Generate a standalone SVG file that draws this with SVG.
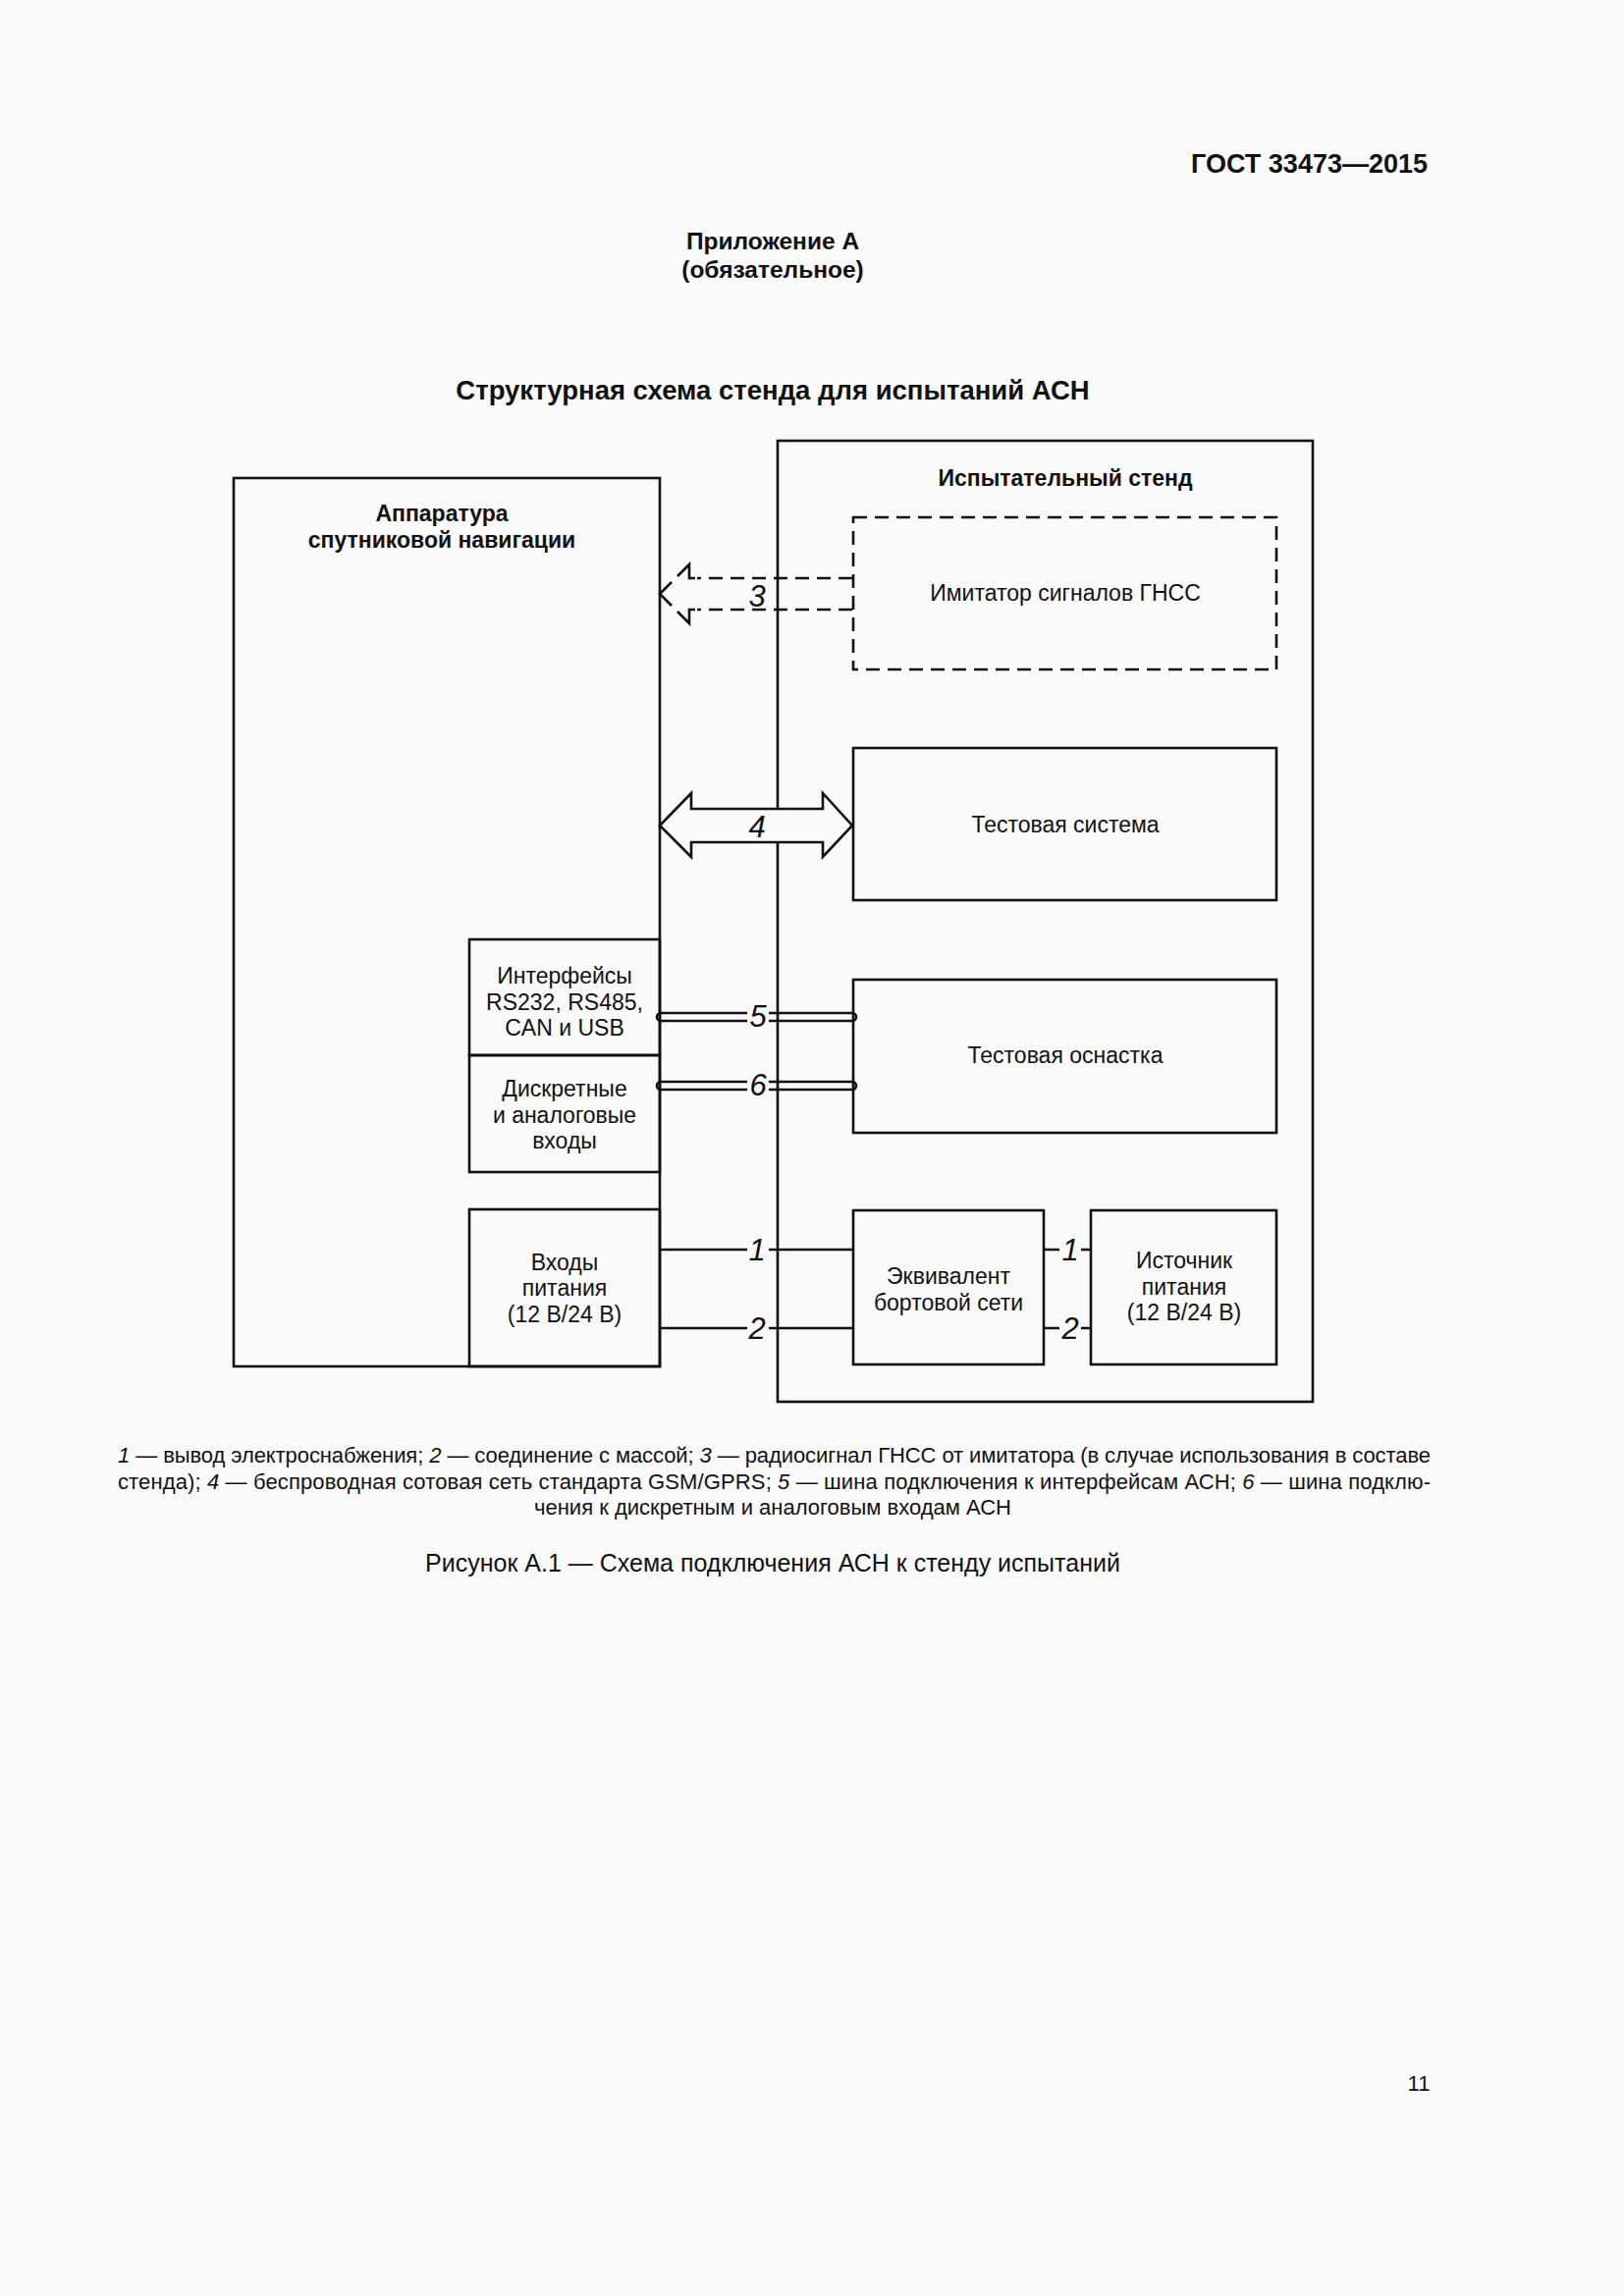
<svg xmlns="http://www.w3.org/2000/svg" width="1654" height="2339" viewBox="0 0 1654 2339">
<style>
.t{font-family:"Liberation Sans",Arial,sans-serif;font-size:23px;fill:#111;text-anchor:middle}
.b{font-weight:bold}
.n{font-family:"Liberation Sans",Arial,sans-serif;font-size:31px;font-style:italic;fill:#111;text-anchor:middle}
.f{font-family:"Liberation Sans",Arial,sans-serif;font-size:22px;fill:#111}
.box{fill:none;stroke:#111;stroke-width:2.6}
.ln{fill:none;stroke:#111;stroke-width:2.6}
.dash{fill:none;stroke:#111;stroke-width:2.6;stroke-dasharray:14 8}
</style>
<rect x="0" y="0" width="1654" height="2339" fill="#fafafa"/>
<text class="t b" x="1454" y="176" style="text-anchor:end;font-size:27px">ГОСТ 33473—2015</text>
<text class="t b" x="787" y="254" style="font-size:24.5px">Приложение А</text>
<text class="t b" x="787" y="283" style="font-size:24.5px">(обязательное)</text>
<text class="t b" x="787" y="407" style="font-size:27.5px">Структурная схема стенда для испытаний АСН</text>

<g id="stand">
<rect class="box" x="792" y="449" width="545" height="979"/>
<text class="t b" x="1085" y="495">Испытательный стенд</text>
</g>
<g id="asn">
<rect class="box" x="238" y="487" width="434" height="905"/>
<text class="t b" x="450" y="531">Аппаратура</text>
<text class="t b" x="450" y="558">спутниковой навигации</text>
</g>
<g id="interfaces">
<rect class="box" x="478" y="957" width="194" height="118"/>
<text class="t" x="575" y="1002">Интерфейсы</text>
<text class="t" x="575" y="1029">RS232, RS485,</text>
<text class="t" x="575" y="1055">CAN и USB</text>
</g>
<g id="discrete">
<rect class="box" x="478" y="1075" width="194" height="119"/>
<text class="t" x="575" y="1117">Дискретные</text>
<text class="t" x="575" y="1144">и аналоговые</text>
<text class="t" x="575" y="1170">входы</text>
</g>
<g id="power-in">
<rect class="box" x="478" y="1232" width="194" height="160"/>
<text class="t" x="575" y="1294">Входы</text>
<text class="t" x="575" y="1320">питания</text>
<text class="t" x="575" y="1347">(12 В/24 В)</text>
</g>
<g id="imitator">
<rect class="dash" x="869" y="527" width="431" height="155"/>
<text class="t" x="1085" y="612">Имитатор сигналов ГНСС</text>
</g>
<g id="test-system">
<rect class="box" x="869" y="762" width="431" height="155"/>
<text class="t" x="1085" y="848">Тестовая система</text>
</g>
<g id="test-rig">
<rect class="box" x="869" y="998" width="431" height="156"/>
<text class="t" x="1085" y="1083">Тестовая оснастка</text>
</g>
<g id="equivalent">
<rect class="box" x="869" y="1233" width="194" height="157"/>
<text class="t" x="966" y="1308">Эквивалент</text>
<text class="t" x="966" y="1335">бортовой сети</text>
</g>
<g id="source">
<rect class="box" x="1111" y="1233" width="189" height="157"/>
<text class="t" x="1206" y="1292">Источник</text>
<text class="t" x="1206" y="1319">питания</text>
<text class="t" x="1206" y="1345">(12 В/24 В)</text>
</g>

<g id="connectors">
<path class="dash" d="M868,589 H710 M868,621 H710"/>
<path class="ln" d="M708,589 H702 V575 L690,587 M684,593 L672,605 L684,617 M690,623 L702,635 V621 H708"/>
<text class="n" x="771" y="618">3</text>
<path class="ln" d="M672,841 L704,808 V824 H838 V808 L868,841 L838,873 V858 H704 V873 Z" style="fill:#fafafa"/>
<text class="n" x="771" y="853">4</text>
<path class="ln" d="M761,1032 H673 A4,4 0 0 0 673,1040 H761 M783,1032 H868 A4,4 0 0 1 868,1040 H783"/>
<text class="n" x="772" y="1046">5</text>
<path class="ln" d="M761,1102 H673 A4,4 0 0 0 673,1110 H761 M783,1102 H868 A4,4 0 0 1 868,1110 H783"/>
<text class="n" x="772" y="1116">6</text>
<path class="ln" d="M672,1273 H761 M783,1273 H869 M672,1353 H761 M783,1353 H869"/>
<text class="n" x="771" y="1284">1</text>
<text class="n" x="771" y="1364">2</text>
<path class="ln" d="M1063,1273 H1079 M1101,1273 H1111 M1063,1353 H1079 M1101,1353 H1111"/>
<text class="n" x="1090" y="1284">1</text>
<text class="n" x="1090" y="1364">2</text>
</g>

<text class="f" x="120" y="1490" textLength="1337" lengthAdjust="spacing"><tspan font-style="italic">1</tspan> — вывод электроснабжения; <tspan font-style="italic">2</tspan> — соединение с массой; <tspan font-style="italic">3</tspan> — радиосигнал ГНСС от имитатора (в случае использования в составе</text>
<text class="f" x="120" y="1517" textLength="1337" lengthAdjust="spacing">стенда); <tspan font-style="italic">4</tspan> — беспроводная сотовая сеть стандарта GSM/GPRS; <tspan font-style="italic">5</tspan> — шина подключения к интерфейсам АСН; <tspan font-style="italic">6</tspan> — шина подклю-</text>
<text class="f" x="787" y="1543" text-anchor="middle">чения к дискретным и аналоговым входам АСН</text>
<text class="t" x="787" y="1601" style="font-size:25px">Рисунок А.1 — Схема подключения АСН к стенду испытаний</text>
<text class="t" x="1445" y="2130" style="font-size:22px">11</text>
</svg>
